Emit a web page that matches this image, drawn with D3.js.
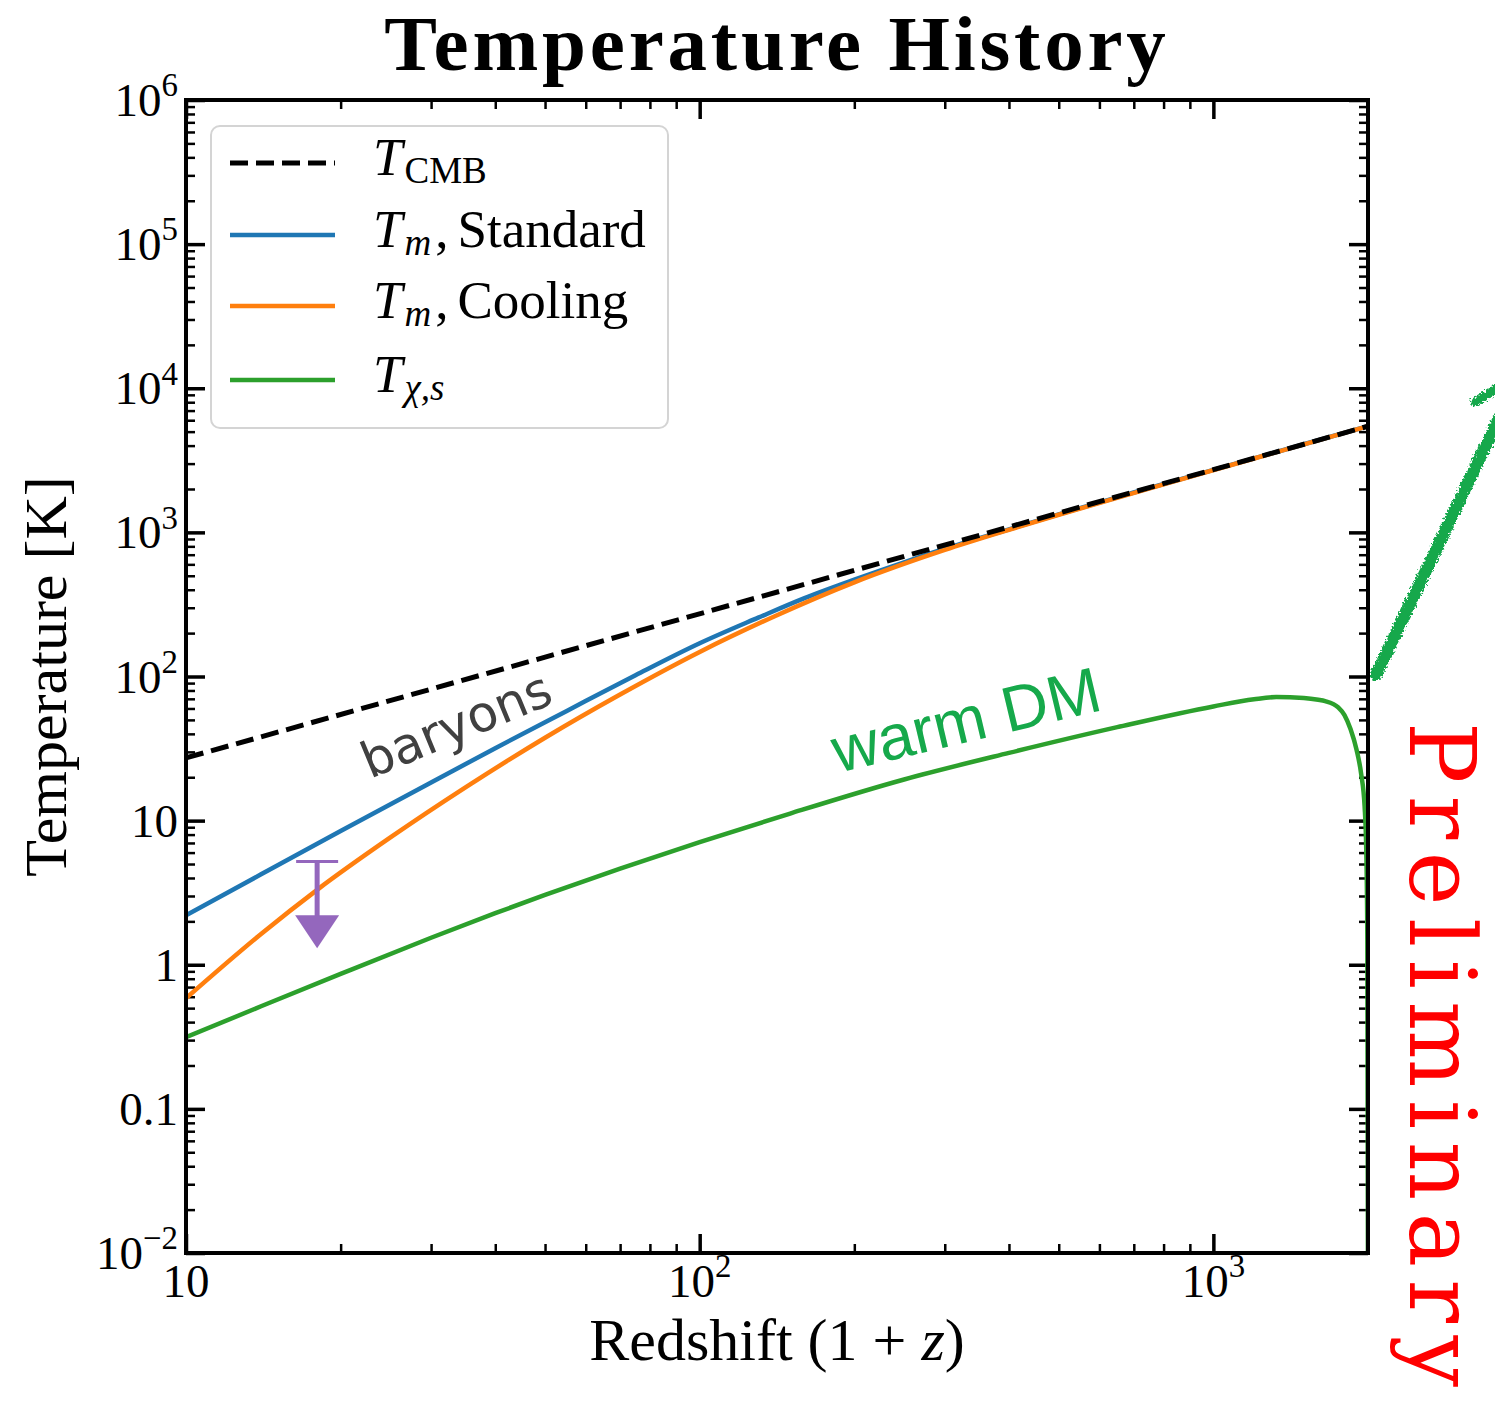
<!DOCTYPE html>
<html>
<head>
<meta charset="utf-8">
<script src="https://cdn.jsdelivr.net/npm/d3@7"></script>
<style>
  body { margin: 0; background: #fff; }
  svg { display: block; }
</style>
</head>
<body>
<svg id="chart" width="1495" height="1409"></svg>
<script>
// ---- data: redshift (1+z) and temperature [K] ----
const cmbZ  = [10, 2000];
const cmbT  = [27.25, 5450];

const stdZ  = [10, 14, 20, 30, 40, 55, 75, 100, 130, 160, 200, 250, 300, 400, 500, 700, 1000, 1500, 2000];
const stdT  = [2.2, 4.24, 8.47, 18.4, 31.8, 57.5, 102, 170, 256, 350, 470, 620, 770, 1050, 1335, 1890, 2715, 4085, 5450];

const coolZ = [10, 14, 18, 25, 35, 50, 70, 100, 140, 200, 300, 400, 500, 800, 1200, 2000];
const coolT = [0.586, 1.636, 3.31, 7.64, 17.0, 37.6, 75, 148, 262, 450, 755, 1042, 1325, 2150, 3255, 5450];

const dmZ   = [10, 14, 20, 30, 40, 50, 70, 100, 150, 250, 400, 650, 1000, 1200, 1326, 1500, 1600, 1650, 1750, 1800, 1850, 1900, 1940, 1970, 1985, 1994, 2000];
const dmT   = [0.314, 0.515, 0.864, 1.54, 2.28, 3.05, 4.64, 7.09, 11.2, 19.3, 29.5, 44.5, 62, 69.5, 72, 71, 69, 67.5, 61, 54, 43, 31, 21, 12.5, 6, 1.5, 0.005];

// upper limit at 1+z = 18 (arrow drawn down to limTip)
const limZ   = [18];
const limT   = [5.2];
const limTip = [1.3];

// ---- axes ----
const xTicks    = [10, 100, 1000];
const xTickText = [["10", ""], ["10", "2"], ["10", "3"]];
const yTicks    = [1e-2, 1e-1, 1, 10, 1e2, 1e3, 1e4, 1e5, 1e6];
const yTickText = [["10", "\u22122"], ["0.1", ""], ["1", ""], ["10", ""], ["10", "2"], ["10", "3"], ["10", "4"], ["10", "5"], ["10", "6"]];

const W = 1495, H = 1409;
const L = 186, R = 1368, T = 100, B = 1253;

const svg = d3.select("#chart");
const x = d3.scaleLog().domain([10, 2000]).range([L, R]);
const y = d3.scaleLog().domain([1e-2, 1e6]).range([B, T]);

const serif = "'Liberation Serif', 'Times New Roman', serif";

const defs = svg.append("defs");
defs.append("clipPath").attr("id", "plotclip")
  .append("rect").attr("x", L).attr("y", T).attr("width", R - L).attr("height", B - T);

const rough = defs.append("filter").attr("id", "rough")
  .attr("x", "-20%").attr("y", "-20%").attr("width", "140%").attr("height", "140%");
rough.append("feTurbulence").attr("type", "fractalNoise").attr("baseFrequency", 0.45)
  .attr("numOctaves", 2).attr("seed", 3).attr("result", "noise");
rough.append("feDisplacementMap").attr("in", "SourceGraphic").attr("in2", "noise")
  .attr("scale", 7).attr("xChannelSelector", "R").attr("yChannelSelector", "G");

// ---- minor / major tick marks (inward, all four sides) ----
const yMinor = [];
for (let e = -2; e < 6; e++) for (let k = 2; k <= 9; k++) yMinor.push(k * Math.pow(10, e));
const xMinor = [];
for (let e = 1; e < 4; e++) for (let k = 2; k <= 9; k++) { const v = k * Math.pow(10, e); if (v < 2000) xMinor.push(v); }

function tickGroup(axisFn, scale, vals, size, width, transform) {
  const g = svg.append("g").attr("transform", transform)
    .call(axisFn(scale).tickValues(vals).tickSize(-size).tickFormat(""));
  g.select(".domain").remove();
  g.selectAll(".tick line").attr("stroke", "#000").attr("stroke-width", width);
  g.selectAll(".tick text").remove();
}
tickGroup(d3.axisBottom, x, xMinor, 9, 2.5, `translate(0,${B})`);
tickGroup(d3.axisTop, x, xMinor, 9, 2.5, `translate(0,${T})`);
tickGroup(d3.axisLeft, y, yMinor, 9, 2.5, `translate(${L},0)`);
tickGroup(d3.axisRight, y, yMinor, 9, 2.5, `translate(${R},0)`);
tickGroup(d3.axisBottom, x, xTicks, 19, 3.5, `translate(0,${B})`);
tickGroup(d3.axisTop, x, xTicks, 19, 3.5, `translate(0,${T})`);
tickGroup(d3.axisLeft, y, yTicks, 19, 3.5, `translate(${L},0)`);
tickGroup(d3.axisRight, y, yTicks, 19, 3.5, `translate(${R},0)`);

// ---- tick labels with superscripts ----
function powLabel(sel, base, exp, fs) {
  sel.append("tspan").text(base);
  if (exp) sel.append("tspan").attr("font-size", fs * 0.7).attr("dy", -fs * 0.42).text(exp);
}
const tickFs = 47;
xTicks.forEach((v, i) => {
  const t = svg.append("text").attr("x", x(v)).attr("y", 1297)
    .attr("text-anchor", "middle").attr("font-family", serif).attr("font-size", tickFs);
  powLabel(t, xTickText[i][0], xTickText[i][1], tickFs);
});
yTicks.forEach((v, i) => {
  const t = svg.append("text").attr("x", 178).attr("y", y(v) + 16)
    .attr("text-anchor", "end").attr("font-family", serif).attr("font-size", tickFs);
  powLabel(t, yTickText[i][0], yTickText[i][1], tickFs);
});

// ---- curves ----
const plot = svg.append("g").attr("clip-path", "url(#plotclip)");
const line = d3.line().x(d => x(d[0])).y(d => y(d[1])).curve(d3.curveMonotoneX);
const zip = (a, b) => a.map((v, i) => [v, b[i]]);

plot.append("path").datum(zip(dmZ, dmT)).attr("d", line)
  .attr("fill", "none").attr("stroke", "#2ca02c").attr("stroke-width", 4.5);
plot.append("path").datum(zip(stdZ, stdT)).attr("d", line)
  .attr("fill", "none").attr("stroke", "#1f77b4").attr("stroke-width", 4.5);
plot.append("path").datum(zip(coolZ, coolT)).attr("d", line)
  .attr("fill", "none").attr("stroke", "#ff7f0e").attr("stroke-width", 4.5);
plot.append("path").datum(zip(cmbZ, cmbT)).attr("d", line)
  .attr("fill", "none").attr("stroke", "#000").attr("stroke-width", 5)
  .attr("stroke-dasharray", "18,8");

// ---- upper-limit arrow ----
const purple = "#9467bd";
limZ.forEach((z, i) => {
  const cx = x(z), top = y(limT[i]), tip = y(limTip[i]);
  const headLen = 33, headHalf = 22;
  plot.append("line").attr("x1", cx - 21).attr("x2", cx + 21).attr("y1", top).attr("y2", top)
    .attr("stroke", purple).attr("stroke-width", 3);
  plot.append("line").attr("x1", cx).attr("x2", cx).attr("y1", top).attr("y2", tip - headLen + 1)
    .attr("stroke", purple).attr("stroke-width", 5);
  plot.append("path")
    .attr("d", `M${cx - headHalf},${tip - headLen}L${cx + headHalf},${tip - headLen}L${cx},${tip}Z`)
    .attr("fill", purple);
});

// ---- in-plot labels ----
svg.append("text").attr("transform", "translate(370,779) rotate(-22.4)")
  .attr("font-family", "'DejaVu Sans', sans-serif").attr("font-size", 50)
  .attr("fill", "#404040").text("baryons");
svg.append("text").attr("transform", "translate(838,773) rotate(-13.4)")
  .attr("font-family", "'Liberation Sans', Arial, sans-serif").attr("font-size", 64)
  .attr("fill", "#16a94b").text("warm DM");

// ---- frame ----
svg.append("rect").attr("x", L).attr("y", T).attr("width", R - L).attr("height", B - T)
  .attr("fill", "none").attr("stroke", "#000").attr("stroke-width", 4);

// ---- legend ----
const leg = svg.append("g");
leg.append("rect").attr("x", 211).attr("y", 126).attr("width", 457).attr("height", 302)
  .attr("rx", 9).attr("fill", "#fff").attr("fill-opacity", 0.8)
  .attr("stroke", "#d4d4d4").attr("stroke-width", 2);
const legRows = [
  { color: "#000", dash: "18,8", w: 5, main: "T", sub: "CMB", subItalic: false, rest: "" },
  { color: "#1f77b4", dash: null, w: 4.5, main: "T", sub: "m", subItalic: true, rest: "Standard" },
  { color: "#ff7f0e", dash: null, w: 4.5, main: "T", sub: "m", subItalic: true, rest: "Cooling" },
  { color: "#2ca02c", dash: null, w: 4.5, main: "T", sub: "\u03c7,s", subItalic: true, rest: "" }
];
const rowY = [163, 235, 306, 380];
legRows.forEach((r, i) => {
  const ly = rowY[i];
  const ln = leg.append("line").attr("x1", 230).attr("x2", 335).attr("y1", ly).attr("y2", ly)
    .attr("stroke", r.color).attr("stroke-width", r.w);
  if (r.dash) ln.attr("stroke-dasharray", r.dash);
  const t = leg.append("text").attr("x", 373).attr("y", ly + 12)
    .attr("font-family", serif).attr("font-size", 53);
  t.append("tspan").attr("font-style", "italic").text(r.main);
  t.append("tspan").attr("font-size", 37).attr("dy", 8).attr("dx", 2)
    .attr("font-style", r.subItalic ? "italic" : "normal").text(r.sub);
  if (r.rest) {
    t.append("tspan").attr("dy", -8).attr("dx", 4).text(",");
    t.append("tspan").attr("dx", 9).text(r.rest);
  }
});

// ---- titles ----
svg.append("text").attr("x", (L + R) / 2).attr("y", 70).attr("text-anchor", "middle")
  .attr("font-family", serif).attr("font-weight", "bold").attr("font-size", 79)
  .attr("letter-spacing", 3.8).text("Temperature History");

const xl = svg.append("text").attr("x", (L + R) / 2).attr("y", 1360).attr("text-anchor", "middle")
  .attr("font-family", serif).attr("font-size", 60);
xl.append("tspan").text("Redshift (1 + ");
xl.append("tspan").attr("font-style", "italic").text("z");
xl.append("tspan").text(")");

svg.append("text").attr("transform", `translate(66,${(T + B) / 2}) rotate(-90)`)
  .attr("text-anchor", "middle").attr("font-family", serif).attr("font-size", 60)
  .text("Temperature [K]");

// ---- "Preliminary" stamp and marker stroke ----
svg.append("text").attr("transform", "translate(1410,722) rotate(90)")
  .attr("font-family", "'DejaVu Serif', serif").attr("font-size", 91)
  .attr("letter-spacing", 12.5).attr("fill", "#ff0000").text("Preliminary");

const scribble = svg.append("g").attr("filter", "url(#rough)")
  .attr("stroke", "#12a84b").attr("stroke-linecap", "round").attr("fill", "none");
scribble.append("path").attr("d", `M${R + 8},675 L${R + 130},420`).attr("stroke-width", 12);
scribble.append("path").attr("d", `M${R + 107},402 L${R + 130},388`).attr("stroke-width", 9);
</script>
</body>
</html>
